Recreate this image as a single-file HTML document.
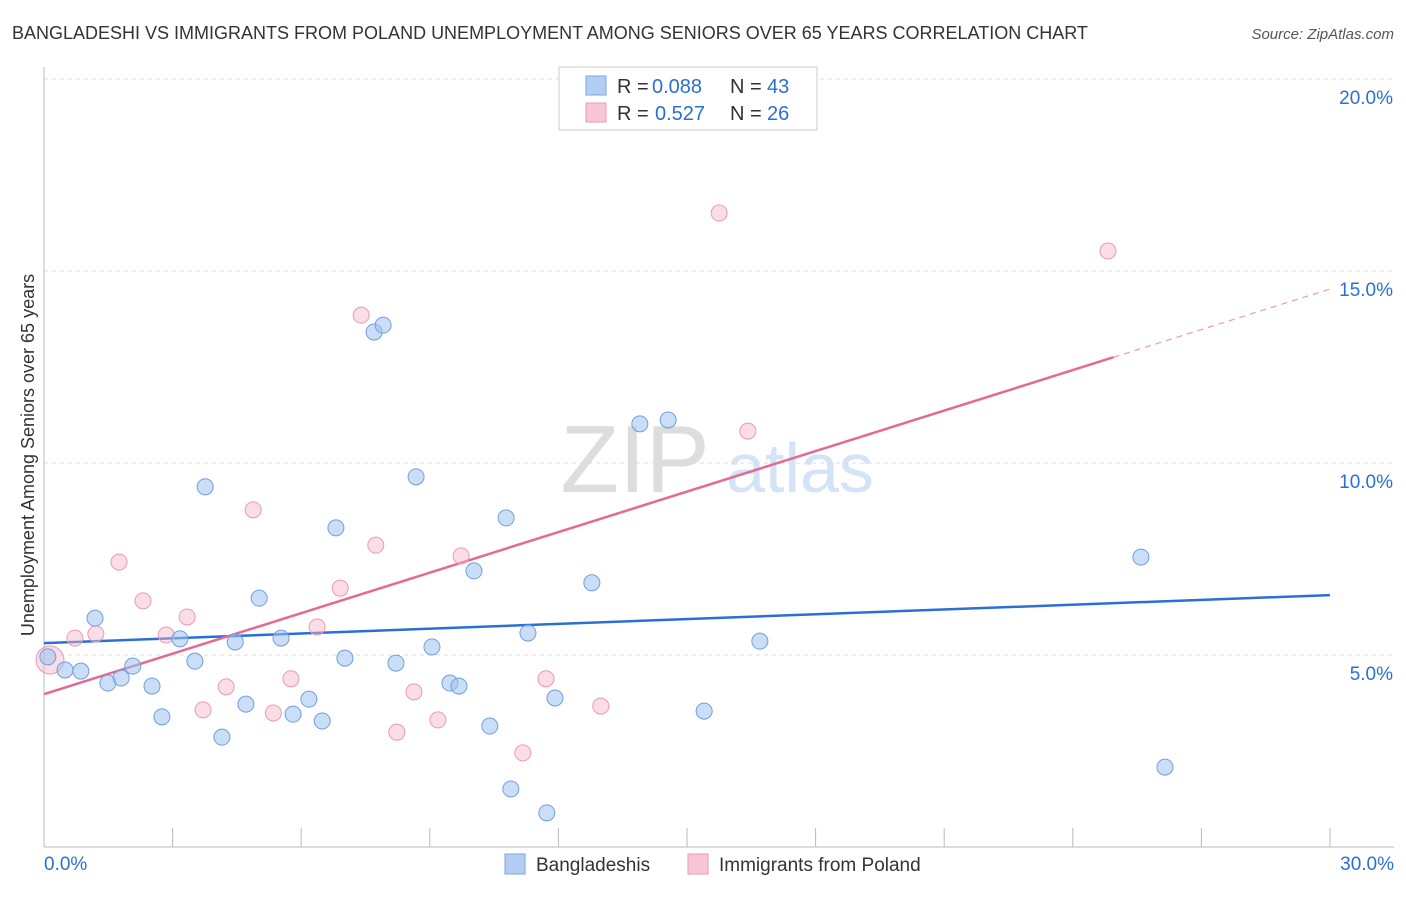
<!DOCTYPE html>
<html><head><meta charset="utf-8">
<style>
body{margin:0;background:#fff;font-family:"Liberation Sans",sans-serif;}
svg text{font-family:"Liberation Sans",sans-serif;}
</style></head>
<body>
<svg id="chart" width="1406" height="892" viewBox="0 0 1406 892" xmlns="http://www.w3.org/2000/svg">
<text x="12" y="39" font-size="18" fill="#333">BANGLADESHI VS IMMIGRANTS FROM POLAND UNEMPLOYMENT AMONG SENIORS OVER 65 YEARS CORRELATION CHART</text>
<text x="1394" y="39" font-size="15" fill="#555" font-style="italic" text-anchor="end">Source: ZipAtlas.com</text>
<g>
<text x="635" y="492" font-size="96" fill="#ddd" text-anchor="middle" font-family="Liberation Serif">ZIP</text>
<text x="800" y="492" font-size="70" fill="#d4e3f5" text-anchor="middle">atlas</text>
</g>
<g id="grid"></g>
<g id="axes"></g>
<g id="lines"></g>
<g id="points"></g>
<text transform="translate(34,455) rotate(-90)" font-size="18" fill="#333" text-anchor="middle">Unemployment Among Seniors over 65 years</text>
<g>
<rect x="559" y="67" width="258" height="63" fill="#fff" stroke="#ccc"/>
<g>
<rect x="586" y="76" width="20" height="19" fill="#b3cef2" stroke="#7aa6e0"/>
<text x="617" y="93" font-size="20" fill="#333">R =</text>
<text x="652" y="93" font-size="20" fill="#2a6fd6">0.088</text>
<text x="730" y="93" font-size="20" fill="#333">N =</text>
<text x="767" y="93" font-size="20" fill="#2a6fd6">43</text>
</g>
<g>
<rect x="586" y="103" width="20" height="19" fill="#f8c6d4" stroke="#eb9ab4"/>
<text x="617" y="120" font-size="20" fill="#333">R =</text>
<text x="655" y="120" font-size="20" fill="#2a6fd6">0.527</text>
<text x="730" y="120" font-size="20" fill="#333">N =</text>
<text x="767" y="120" font-size="20" fill="#2a6fd6">26</text>
</g>
</g>
<g>
<rect x="505" y="854" width="20" height="20" fill="#b3cef2" stroke="#7aa6e0"/>
<text x="536" y="871" font-size="19" fill="#333">Bangladeshis</text>
<rect x="688" y="854" width="20" height="20" fill="#f8c6d4" stroke="#eb9ab4"/>
<text x="719" y="871" font-size="19" fill="#333">Immigrants from Poland</text>
</g>
</svg>
<script>
const xTicks=[0,3,6,9,12,15,18,21,24,27,30];
const yTickLabels=[5,10,15,20];
const blueX=[0.09,0.49,0.86,1.19,1.49,1.80,2.07,2.52,2.75,3.17,3.52,3.76,4.15,4.46,4.71,5.02,5.53,5.81,6.18,6.49,6.81,7.02,7.70,7.91,8.21,8.68,9.05,9.47,9.68,10.03,10.40,10.78,10.89,11.29,11.73,11.92,12.78,13.90,14.56,15.40,16.70,25.59,26.15];
const blueY=[4.95,4.61,4.58,5.96,4.27,4.40,4.71,4.19,3.39,5.42,4.84,9.38,2.86,5.34,3.72,6.48,5.44,3.46,3.85,3.28,8.31,4.92,13.41,13.59,4.79,9.64,5.21,4.27,4.19,7.19,3.15,8.57,1.51,5.57,0.89,3.88,6.88,11.02,11.12,3.54,5.36,7.55,2.08];
const pinkX=[0.14,0.72,1.21,1.75,2.31,2.85,3.34,3.71,4.25,4.88,5.35,5.76,6.37,6.91,7.40,7.74,8.23,8.63,9.19,9.73,11.17,11.71,12.99,15.75,16.42,24.82];
const pinkY=[4.87,5.44,5.55,7.42,6.41,5.52,5.99,3.57,4.17,8.78,3.49,4.38,5.73,6.74,13.85,7.86,2.99,4.04,3.31,7.58,2.45,4.38,3.67,16.51,10.83,15.52];
const blueLine=[5.31,6.56];
const pinkLine=[3.98,14.53];
const pinkSolidEnd=24.95;
const NS="http://www.w3.org/2000/svg";
const X=v=>44+v/30*1286;
const Y=v=>847-v/5*192;
function mk(tag,attrs,parent){const e=document.createElementNS(NS,tag);for(const k in attrs)e.setAttribute(k,attrs[k]);document.getElementById(parent).appendChild(e);return e;}
yTickLabels.forEach(v=>{
  const l=mk('line',{x1:44,x2:1394,y1:Y(v),y2:Y(v),stroke:'#ddd','stroke-dasharray':'4,4'},'grid');
  
  
  const t=mk('text',{x:1393,y:Y(v)+25,'font-size':19,fill:'#2a6fd6','text-anchor':'end'},'axes');
  t.textContent=v.toFixed(1)+'%';
  
  
});
const xa=mk('line',{x1:44,x2:1394,y1:847,y2:847,stroke:'#bbb'},'axes');


const ya=mk('line',{x1:44,x2:44,y1:67,y2:847,stroke:'#bbb'},'axes');


xTicks.forEach(v=>{
  const t=mk('line',{x1:X(v),x2:X(v),y1:828,y2:847,stroke:'#bbb'},'axes');
  
  
});
[[0,'start',44],[30,'end',1394]].forEach(([v,a,x])=>{
  const t=mk('text',{x:x,y:870,'font-size':19,fill:'#2a6fd6','text-anchor':a},'axes');
  t.textContent=v.toFixed(1)+'%';
  
  
});
const bl=mk('line',{x1:X(0),y1:Y(blueLine[0]),x2:X(30),y2:Y(blueLine[1]),stroke:'#2a6fd6','stroke-width':2.5},'lines');


const pAt=x=>pinkLine[0]+(pinkLine[1]-pinkLine[0])*x/30;
const pl=mk('line',{x1:X(0),y1:Y(pAt(0)),x2:X(pinkSolidEnd),y2:Y(pAt(pinkSolidEnd)),stroke:'#e46a94','stroke-width':2.5},'lines');


const pd=mk('line',{x1:X(pinkSolidEnd),y1:Y(pAt(pinkSolidEnd)),x2:X(30),y2:Y(pAt(30)),stroke:'#e99ab4','stroke-width':1.2,'stroke-dasharray':'6,5'},'lines');


pinkX.forEach((x,i)=>{
  const c=mk('circle',{cx:X(x),cy:Y(pinkY[i]),r:i===0?14:8,fill:'rgba(245,180,200,0.45)',stroke:'#eb9ab4','stroke-width':1},'points');
  
  
});
blueX.forEach((x,i)=>{
  const c=mk('circle',{cx:X(x),cy:Y(blueY[i]),r:8,fill:'rgba(160,195,240,0.55)',stroke:'#6f9fe0','stroke-width':1},'points');
  
  
});
</script>
</body></html>
